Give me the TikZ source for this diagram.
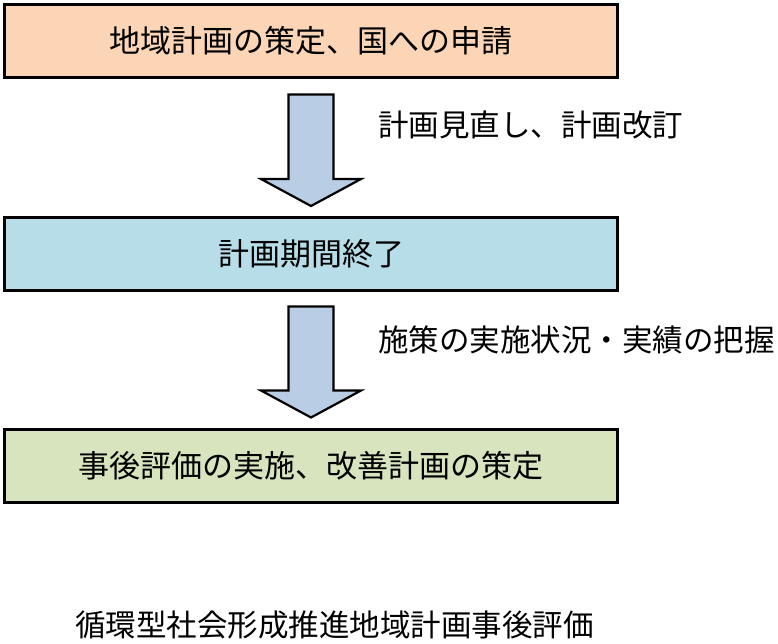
\documentclass[tikz,border=0pt]{standalone}
\usepackage{fontspec}
\setmainfont{Noto Sans CJK JP}
\usetikzlibrary{positioning,calc}
\definecolor{peach}{HTML}{FBD5B5}
\definecolor{lightcyan}{HTML}{B7DDE8}
\definecolor{lightolive}{HTML}{D7E4BD}
\definecolor{arrowblue}{HTML}{B9CDE5}

\begin{document}
\begin{tikzpicture}[x=1pt,y=-1pt,
                stagebox/.style={draw=black, line width=3pt, minimum width=613pt, minimum height=73pt, inner sep=0pt, font=\fontsize{31}{31}\selectfont},
                blockarrow/.style={draw=black, line width=2.2pt, fill=arrowblue, line join=miter},
                steplabel/.style={anchor=west, inner sep=0pt, font=\fontsize{30.5}{30.5}\selectfont}]
                \useasboundingbox (0,0) rectangle (778,643);
                % stages
                \node [stagebox, fill=peach] (plan) at (311,41) {地域計画の策定、国への申請};
                \node [stagebox, fill=lightcyan] (term) at (311,254) {計画期間終了};
                \node [stagebox, fill=lightolive] (review) at (311,465.5) {事後評価の実施、改善計画の策定};
                % arrows between stages
                \coordinate (a1) at ($(plan.south)+(0,15.5)$);
                \coordinate (t1) at ($(term.north)+(0,-10)$);
                \draw [blockarrow] ($(a1)+(-22.5,0)$) -- ($(a1)+(22.5,0)$) -- ($(t1)+(22.5,-27)$) -- ($(t1)+(50,-27)$) -- (t1) -- ($(t1)+(-50,-27)$) -- ($(t1)+(-22.5,-27)$) -- cycle;
                \coordinate (a2) at ($(term.south)+(0,14.5)$);
                \coordinate (t2) at ($(review.north)+(0,-10)$);
                \draw [blockarrow] ($(a2)+(-22.5,0)$) -- ($(a2)+(22.5,0)$) -- ($(t2)+(22.5,-27)$) -- ($(t2)+(50,-27)$) -- (t2) -- ($(t2)+(-50,-27)$) -- ($(t2)+(-22.5,-27)$) -- cycle;
                % labels
                \node [steplabel] (revise) at (378,125) {計画見直し、計画改訂};
                \node [steplabel] (grasp) at (378,340) {施策の実施状況・実績の把握};
                \node [steplabel] (caption) at (75,625) {循環型社会形成推進地域計画事後評価};
\end{tikzpicture}
\end{document}
